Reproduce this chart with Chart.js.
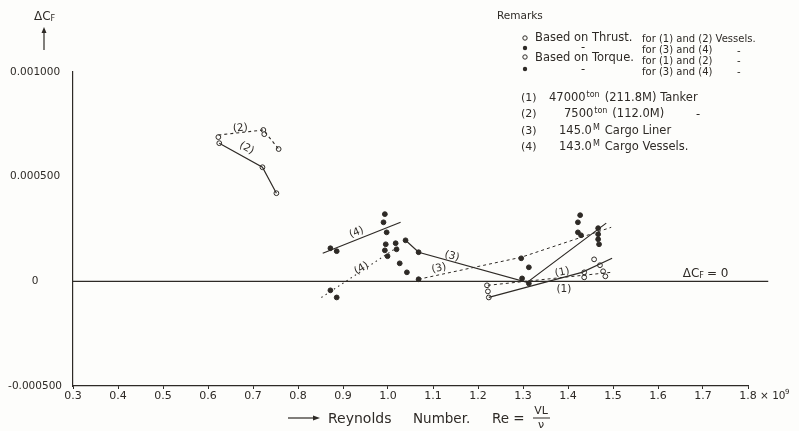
<!DOCTYPE html>
<html>
<head>
<meta charset="utf-8">
<script src="https://cdn.jsdelivr.net/npm/chart.js@4"></script>
<style>
  html, body { margin: 0; padding: 0; background: #fdfdfb; }
</style>
</head>
<body>
<canvas id="chart" width="799" height="431"></canvas>
<script>
      // ticks
      const xTicks = [0.3, 0.4, 0.5, 0.6, 0.7, 0.8, 0.9, 1.0, 1.1, 1.2, 1.3, 1.4, 1.5, 1.6, 1.7, 1.8];
      const yTicks = [-0.0005, 0, 0.0005, 0.001];

      // measured points [Re x1e9, dCf]
      const thrust12 = [[0.623, 0.000689], [0.721, 0.000545], [0.752, 0.000421], [1.224, -0.000077], [1.436, 0.000043], [1.458, 0.000105], [1.471, 0.000077]];
      const torque12 = [[0.625, 0.00066], [0.723, 0.000723], [0.725, 0.000703], [0.757, 0.000632], [1.220, -0.000019], [1.222, -0.000048], [1.436, 0.000019], [1.478, 0.000048], [1.483, 0.000024]];
      const thrust34 = [[0.872, 0.000158], [0.886, 0.000144], [0.993, 0.000321], [0.990, 0.000282], [0.997, 0.000234], [0.995, 0.000177], [1.039, 0.000196], [1.068, 0.000139], [1.298, 0.000014], [1.313, -0.00001], [1.427, 0.000316], [1.422, 0.000282], [1.422, 0.000234], [1.429, 0.00022]];
      const torque34 = [[0.872, -0.000043], [0.886, -0.000077], [0.993, 0.000148], [1.017, 0.000182], [1.019, 0.000153], [0.999, 0.00012], [1.026, 0.000086], [1.042, 0.000043], [1.068, 0.00001], [1.296, 0.00011], [1.313, 0.000067], [1.467, 0.000254], [1.467, 0.000225], [1.467, 0.000201], [1.469, 0.000177]];

      // faired lines
      const line2Thrust = [[0.625, 0.00066], [0.721, 0.000545], [0.752, 0.000421]];
      const line2Torque = [[0.623, 0.000699], [0.723, 0.000723], [0.757, 0.000632]];
      const line4Thrust = [[0.855, 0.000134], [1.028, 0.000282]];
      const line4Torque = [[0.852, -0.000077], [1.024, 0.000167]];
      const line3Thrust = [[1.039, 0.000196], [1.068, 0.000139], [1.309, -0.000005], [1.485, 0.000278]];
      const line3Torque = [[1.068, 0.00001], [1.296, 0.000115], [1.496, 0.000258]];
      const line1Thrust = [[1.224, -0.000077], [1.431, 0.000043], [1.498, 0.00011]];
      const line1Torque = [[1.222, -0.000019], [1.496, 0.000043]];
      const zeroLine = [[0.3, 0], [1.845, 0]];

      // tags written beside the lines: text, Re, dCf, angle
      const lineTags = [
        ["(2)", 0.672, 0.000732, -6], ["(2)", 0.686, 0.000636, 29],
        ["(4)", 0.930, 0.000234, -22], ["(4)", 0.941, 0.000062, -30],
        ["(3)", 1.142, 0.00012, 15], ["(3)", 1.113, 0.000062, -12],
        ["(1)", 1.387, 0.000043, -12], ["(1)", 1.391, -0.000038, 0]
      ];

      const INK = "#2e2a26";
      const FONT = '"DejaVu Sans", sans-serif';
      const pts = arr => arr.map(p => ({ x: p[0], y: p[1] }));

      function lineSet(arr, dash, width) {
        return { data: pts(arr), showLine: true, pointRadius: 0, borderColor: INK, borderWidth: width, borderDash: dash, fill: false };
      }
      function markSet(arr, open) {
        return { data: pts(arr), showLine: false, pointRadius: 2.4, pointBorderWidth: 1, pointBorderColor: INK, pointBackgroundColor: open ? "#fdfdfb" : INK };
      }

      function subText(ctx, main, sub, rest, x, y, size) {
        ctx.font = size + "px " + FONT;
        ctx.fillText(main, x, y);
        let w = ctx.measureText(main).width;
        ctx.font = Math.round(size * 0.7) + "px " + FONT;
        ctx.fillText(sub, x + w, y + size * 0.2);
        w += ctx.measureText(sub).width;
        if (rest) {
          ctx.font = size + "px " + FONT;
          ctx.fillText(rest, x + w + 3, y);
        }
      }

      function supText(ctx, main, sup, rest, x, y, size) {
        ctx.font = size + "px " + FONT;
        ctx.fillText(main, x, y);
        let w = ctx.measureText(main).width + 1;
        ctx.font = Math.round(size * 0.7) + "px " + FONT;
        ctx.fillText(sup, x + w, y - size * 0.3);
        w += ctx.measureText(sup).width + 5;
        ctx.font = size + "px " + FONT;
        ctx.fillText(rest, x + w, y);
      }

      const notesPlugin = {
        id: "notes",
        afterDraw(chart) {
          const { ctx } = chart;
          const xs = chart.scales.x, ys = chart.scales.y;
          ctx.save();
          ctx.fillStyle = INK;
          ctx.strokeStyle = INK;
          ctx.textBaseline = "middle";

          // tags on the lines
          ctx.textAlign = "center";
          ctx.font = "10.5px " + FONT;
          lineTags.forEach(t => {
            ctx.save();
            ctx.translate(xs.getPixelForValue(t[1]), ys.getPixelForValue(t[2]));
            ctx.rotate(t[3] * Math.PI / 180);
            ctx.fillText(t[0], 0, 0);
            ctx.restore();
          });

          ctx.textAlign = "left";
          subText(ctx, "\u0394C", "F", "= 0", xs.getPixelForValue(1.655), ys.getPixelForValue(0.000035), 12);

          // y axis name with arrow
          subText(ctx, "\u0394C", "F", "", 34, 17, 12);
          ctx.lineWidth = 1.2;
          ctx.beginPath(); ctx.moveTo(44, 50); ctx.lineTo(44, 29); ctx.stroke();
          ctx.beginPath(); ctx.moveTo(44, 27); ctx.lineTo(41.5, 33); ctx.lineTo(46.5, 33); ctx.closePath(); ctx.fill();

          // x axis name
          ctx.beginPath(); ctx.moveTo(288, 418); ctx.lineTo(316, 418); ctx.stroke();
          ctx.beginPath(); ctx.moveTo(320, 418); ctx.lineTo(313, 415.5); ctx.lineTo(313, 420.5); ctx.closePath(); ctx.fill();
          ctx.font = "14px " + FONT;
          ctx.fillText("Reynolds", 328, 419);
          ctx.font = "13.5px " + FONT;
          ctx.fillText("Number.", 413, 419);
          ctx.fillText("Re =", 492, 419);
          ctx.font = "11px " + FONT;
          ctx.textAlign = "center";
          ctx.fillText("VL", 541, 411);
          ctx.fillText("\u03BD", 541, 425);
          ctx.lineWidth = 1;
          ctx.beginPath(); ctx.moveTo(533, 418); ctx.lineTo(550, 418); ctx.stroke();
          ctx.textAlign = "left";
          ctx.font = "10.5px " + FONT;
          ctx.fillText("\u00D7 10", 760, 396);
          ctx.font = "7px " + FONT;
          ctx.fillText("9", 785, 392);

          // remarks block
          ctx.font = "10.5px " + FONT;
          ctx.fillText("Remarks", 497, 16);
          ctx.font = "11.5px " + FONT;
          ctx.fillText("Based on Thrust.", 535, 38);
          ctx.fillText("Based on Torque.", 535, 58);
          ctx.fillText("-", 581, 48);
          ctx.fillText("-", 581, 70);
          ctx.font = "10px " + FONT;
          ctx.fillText("for (1) and (2) Vessels.", 642, 39);
          ctx.fillText("for (3) and (4)", 642, 50);
          ctx.fillText("for (1) and (2)", 642, 61);
          ctx.fillText("for (3) and (4)", 642, 72);
          ["-", "-", "-"].forEach((s, i) => ctx.fillText(s, 737, 51 + i * 10.5));
          [[38, true], [48, false], [57, true], [69, false]].forEach(m => {
            ctx.beginPath();
            ctx.arc(525, m[0], 2.2, 0, Math.PI * 2);
            if (m[1]) { ctx.fillStyle = "#fdfdfb"; ctx.fill(); ctx.fillStyle = INK; ctx.lineWidth = 1; ctx.stroke(); }
            else ctx.fill();
          });

          ctx.font = "11px " + FONT;
          ctx.fillText("(1)", 521, 98);
          ctx.fillText("(2)", 521, 114);
          ctx.fillText("(3)", 521, 131);
          ctx.fillText("(4)", 521, 147);
          supText(ctx, "47000", "ton", "(211.8M) Tanker", 549, 98, 11.5);
          supText(ctx, "7500", "ton", "(112.0M)", 564, 114, 11.5);
          ctx.fillText("-", 696, 115);
          supText(ctx, "145.0", "M", "Cargo Liner", 559, 131, 11.5);
          supText(ctx, "143.0", "M", "Cargo Vessels.", 559, 147, 11.5);
          ctx.restore();
        }
      };

      const zeroSet = lineSet(zeroLine, [], 1.3);
      zeroSet.clip = false;

      new Chart(document.getElementById("chart"), {
        type: "scatter",
        data: {
          datasets: [
            zeroSet,
            lineSet(line2Thrust, [], 1.2),
            lineSet(line2Torque, [3, 3], 1.1),
            lineSet(line4Thrust, [], 1.2),
            lineSet(line4Torque, [1.5, 3.5], 1.1),
            lineSet(line3Thrust, [], 1.2),
            lineSet(line3Torque, [3, 3], 1),
            lineSet(line1Thrust, [], 1.2),
            lineSet(line1Torque, [3, 3], 1),
            markSet(thrust12, true),
            markSet(torque12, true),
            markSet(thrust34, false),
            markSet(torque34, false)
          ]
        },
        options: {
          responsive: false,
          devicePixelRatio: 1,
          animation: false,
          layout: { padding: { top: 72, right: 51, bottom: 25, left: 0 } },
          plugins: { legend: { display: false }, tooltip: { enabled: false } },
          scales: {
            x: {
              type: "linear", min: 0.3, max: 1.8,
              afterBuildTicks: s => { s.ticks = xTicks.map(v => ({ value: v })); },
              afterFit: s => { s.height = 20; },
              ticks: { color: INK, font: { family: FONT, size: 11 }, padding: 1, maxRotation: 0, callback: v => v.toFixed(1) },
              grid: { display: true, drawOnChartArea: false, drawTicks: true, tickLength: 3, color: INK },
              border: { display: true, color: INK, width: 1.2 }
            },
            y: {
              type: "linear", min: -0.0005, max: 0.001,
              afterBuildTicks: s => { s.ticks = yTicks.map(v => ({ value: v })); },
              afterFit: s => { s.width = 73; },
              ticks: { color: INK, font: { family: FONT, size: 10.5 }, crossAlign: "center", callback: v => v === 0 ? "0" : v.toFixed(6) },
              grid: { display: false },
              border: { display: true, color: INK, width: 1.2 }
            }
          }
        },
        plugins: [notesPlugin]
      });
</script>
</body>
</html>
